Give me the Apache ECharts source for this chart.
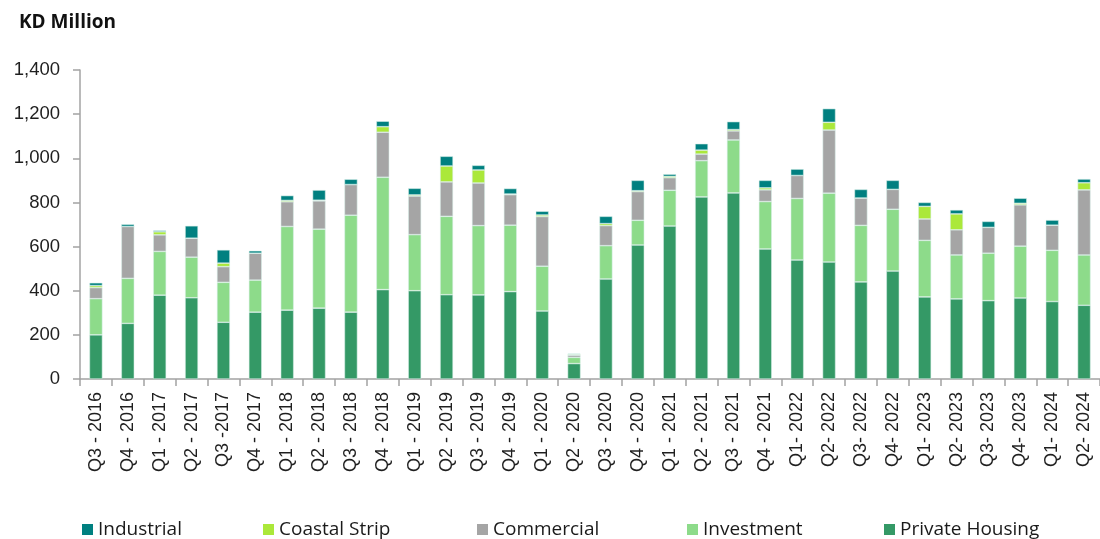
<!DOCTYPE html>
<html>
<head>
<meta charset="utf-8">
<script src="https://cdn.jsdelivr.net/npm/echarts@6/dist/echarts.min.js"></script>
<style>
  html, body { margin: 0; padding: 0; background: #ffffff; }
  #chart { width: 1100px; height: 539px; }
</style>
</head>
<body>
<div id="chart"></div>
<script>
// Quarterly real estate trading value, KD million, split by sector
const categories = ['Q3 - 2016','Q4 - 2016','Q1 - 2017','Q2 - 2017','Q3 -2017','Q4 - 2017',
  'Q1 - 2018','Q2 - 2018','Q3 - 2018','Q4 - 2018','Q1 - 2019','Q2 - 2019','Q3 - 2019','Q4 - 2019',
  'Q1 - 2020','Q2 - 2020','Q3 - 2020','Q4 - 2020','Q1 - 2021','Q2 - 2021','Q3 - 2021','Q4 - 2021',
  'Q1- 2022','Q2- 2022','Q3- 2022','Q4- 2022','Q1- 2023','Q2- 2023','Q3- 2023','Q4- 2023',
  'Q1- 2024','Q2- 2024'];

const privateHousing = [200,252,380,368,257,303,312,321,303,405,400,382,381,396,308,70,453,607,693,825,843,589,539,530,440,489,372,363,355,367,351,334];
const investment     = [164,204,198,184,181,145,379,358,439,509,254,355,314,301,203,28,151,112,162,164,240,215,279,312,256,280,256,199,215,235,232,228];
const commercial     = [50,235,75,86,71,122,112,128,139,204,175,156,193,138,225,10,91,130,57,30,41,53,104,286,124,90,97,114,117,187,114,295];
const coastalStrip   = [9,0,14,0,16,0,6,3,0,25,5,72,59,3,7,4,9,4,6,18,6,9,0,35,0,0,57,72,0,7,0,32];
const industrial     = [13,10,6,56,60,11,22,46,24,25,30,44,21,25,17,3,33,47,10,29,36,34,29,62,39,41,18,18,27,23,23,17];

const yTicks = { min: 0, max: 1400, interval: 200 };

const palette = {
  'Private Housing': '#349966',
  'Investment': '#8ddb8a',
  'Commercial': '#a5a5a5',
  'Coastal Strip': '#abe83a',
  'Industrial': '#008080'
};

const stackOrder = [
  ['Private Housing', privateHousing],
  ['Investment', investment],
  ['Commercial', commercial],
  ['Coastal Strip', coastalStrip],
  ['Industrial', industrial]
];

// Legend entries, each placed on its own along the bottom row
const legendSlots = [
  ['Industrial', 82],
  ['Coastal Strip', 263],
  ['Commercial', 477],
  ['Investment', 687],
  ['Private Housing', 884]
];

const axisGrey = '#a3a3a3';
const textFont = 'Liberation Sans, Arial, sans-serif';
const legendFont = 'Open Sans, sans-serif';

const addCommas = v => String(v).replace(/\B(?=(\d{3})+(?!\d))/g, ',');

const chart = echarts.init(document.getElementById('chart'), null, { renderer: 'canvas' });

chart.setOption({
  animation: false,
  backgroundColor: '#ffffff',
  title: {
    text: 'KD Million',
    left: 19,
    top: 13,
    padding: 0,
    textStyle: { fontFamily: legendFont, fontWeight: 'bold', fontSize: 19, color: '#111111' }
  },
  legend: legendSlots.map(([name, x]) => ({
    data: [name],
    left: x,
    top: 520,
    padding: 0,
    itemWidth: 11,
    itemHeight: 11,
    icon: 'rect',
    selectedMode: false,
    itemStyle: { borderWidth: 0 },
    textStyle: { fontFamily: legendFont, fontSize: 19, color: '#1a1a1a' }
  })),
  grid: { left: 80, right: -4, top: 70, bottom: 160, containLabel: false },
  xAxis: {
    type: 'category',
    data: categories,
    boundaryGap: true,
    axisLine: { lineStyle: { color: axisGrey, width: 1.5 } },
    axisTick: { show: true, length: 7, lineStyle: { color: axisGrey, width: 1.5 } },
    axisLabel: {
      rotate: 90,
      interval: 0,
      margin: 13,
      fontFamily: textFont,
      fontSize: 18,
      color: '#1f1f1f'
    }
  },
  yAxis: {
    type: 'value',
    min: yTicks.min,
    max: yTicks.max,
    interval: yTicks.interval,
    splitLine: { show: false },
    axisLine: { show: true, lineStyle: { color: axisGrey, width: 1.5 } },
    axisTick: { show: true, length: 7, lineStyle: { color: axisGrey, width: 1.5 } },
    axisLabel: {
      margin: 20,
      fontFamily: textFont,
      fontSize: 18.5,
      color: '#1f1f1f',
      formatter: v => addCommas(v)
    }
  },
  series: stackOrder.map(([name, values]) => ({
    name: name,
    type: 'bar',
    stack: 'total',
    barWidth: 13,
    data: values,
    itemStyle: {
      color: palette[name],
      borderColor: 'rgba(215,238,232,0.9)',
      borderWidth: 0.6
    }
  }))
});
</script>
</body>
</html>
